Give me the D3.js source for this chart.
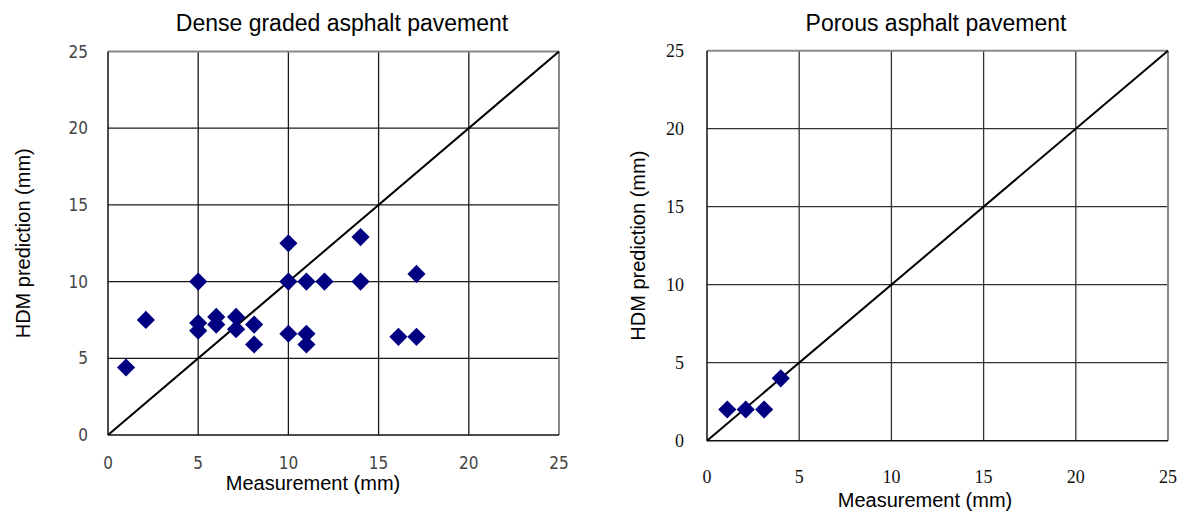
<!DOCTYPE html>
<html>
<head>
<meta charset="utf-8">
<script src="https://cdn.jsdelivr.net/npm/d3@7"></script>
<style>
  body { margin: 0; background: #fff; }
  svg { display: block; }
  .title, .axis-label { font-family: "Liberation Sans", Arial, sans-serif; fill: #000; }
</style>
</head>
<body>
<svg id="chart" width="1184" height="512"></svg>
<script>
// dense graded pavement: [measurement, HDM prediction]
var denseMeasured  = [1, 2.1, 5, 5, 5, 6, 6, 7.1, 7.1, 8.1, 8.1, 10, 10, 10, 11, 11, 11, 12, 14, 14, 16.1, 17.1, 17.1];
var densePredicted = [4.4, 7.5, 10, 7.3, 6.8, 7.7, 7.2, 7.7, 6.9, 7.2, 5.9, 12.5, 10, 6.6, 10, 6.6, 5.9, 10, 12.9, 10, 6.4, 6.4, 10.5];

// porous pavement
var porousMeasured  = [1.1, 2.1, 3.1, 4];
var porousPredicted = [2, 2, 2, 4];

var tickValues = [0, 5, 10, 15, 20, 25];
var axisMax = 25;

var svg = d3.select("#chart");

function drawPanel(opts) {
  var x = d3.scaleLinear().domain([0, axisMax]).range([opts.left, opts.right]);
  var y = d3.scaleLinear().domain([0, axisMax]).range([opts.bottom, opts.top]);
  var g = svg.append("g");

  // grid
  g.selectAll(".vgrid").data(tickValues.slice(1, -1)).enter().append("line")
    .attr("x1", function (d) { return x(d); }).attr("x2", function (d) { return x(d); })
    .attr("y1", y(0)).attr("y2", y(axisMax))
    .attr("stroke", opts.gridColor).attr("stroke-width", 1.3);
  g.selectAll(".hgrid").data(tickValues.slice(1, -1)).enter().append("line")
    .attr("y1", function (d) { return y(d); }).attr("y2", function (d) { return y(d); })
    .attr("x1", x(0)).attr("x2", x(axisMax))
    .attr("stroke", opts.gridColor).attr("stroke-width", 1.3);

  // frame: grey top/right, dark left/bottom
  g.append("line").attr("x1", x(0)).attr("x2", x(axisMax)).attr("y1", y(axisMax)).attr("y2", y(axisMax))
    .attr("stroke", "#888").attr("stroke-width", 2);
  g.append("line").attr("x1", x(axisMax)).attr("x2", x(axisMax)).attr("y1", y(0)).attr("y2", y(axisMax))
    .attr("stroke", "#888").attr("stroke-width", 2);
  g.append("line").attr("x1", x(0)).attr("x2", x(0)).attr("y1", y(0)).attr("y2", y(axisMax))
    .attr("stroke", "#111").attr("stroke-width", 1.5);
  g.append("line").attr("x1", x(0)).attr("x2", x(axisMax)).attr("y1", y(0)).attr("y2", y(0))
    .attr("stroke", "#111").attr("stroke-width", 1.5);

  // 1:1 line
  g.append("line").attr("x1", x(0)).attr("y1", y(0)).attr("x2", x(axisMax)).attr("y2", y(axisMax))
    .attr("stroke", "#000").attr("stroke-width", 2);

  // tick labels
  g.selectAll(".xt").data(tickValues).enter().append("text")
    .attr("x", function (d) { return x(d); }).attr("y", opts.xTickY)
    .attr("text-anchor", "middle").attr("dominant-baseline", "central")
    .style("font-family", opts.tickFont).style("font-size", opts.tickSize + "px").style("fill", opts.tickColor)
    .text(function (d) { return d; });
  g.selectAll(".yt").data(tickValues).enter().append("text")
    .attr("x", opts.yTickX).attr("y", function (d) { return y(d); })
    .attr("text-anchor", "end").attr("dominant-baseline", "central")
    .style("font-family", opts.tickFont).style("font-size", opts.tickSize + "px").style("fill", opts.tickColor)
    .text(function (d) { return d; });

  // points
  var sym = d3.symbol().type(d3.symbolSquare).size(165);
  g.selectAll(".pt").data(opts.xs).enter().append("path")
    .attr("d", sym)
    .attr("transform", function (d, i) { return "translate(" + x(d) + "," + y(opts.ys[i]) + ") rotate(45)"; })
    .attr("fill", "#000080");

  // titles
  g.append("text").attr("class", "title").attr("x", opts.titleX).attr("y", 31)
    .attr("text-anchor", "middle").style("font-size", "23px").text(opts.title);
  g.append("text").attr("class", "axis-label").attr("x", opts.xLabelX).attr("y", opts.xLabelY)
    .attr("text-anchor", "middle").style("font-size", "20px").text("Measurement (mm)");
  g.append("text").attr("class", "axis-label")
    .attr("transform", "translate(" + opts.yLabelX + "," + (opts.top + opts.bottom) / 2 + ") rotate(-90)")
    .attr("text-anchor", "middle").style("font-size", "20px").text("HDM prediction (mm)");
}

drawPanel({
  left: 108, right: 559, top: 51.5, bottom: 435,
  xs: denseMeasured, ys: densePredicted,
  gridColor: "#1a1a1a",
  tickFont: '"Liberation Sans Narrow", "DejaVu Sans Condensed", sans-serif',
  tickSize: 17, tickColor: "#444",
  xTickY: 463, yTickX: 88,
  title: "Dense graded asphalt pavement", titleX: 342,
  xLabelX: 313, xLabelY: 490,
  yLabelX: 30
});

drawPanel({
  left: 707, right: 1168, top: 50.7, bottom: 440.7,
  xs: porousMeasured, ys: porousPredicted,
  gridColor: "#333",
  tickFont: '"Liberation Serif", "Times New Roman", serif',
  tickSize: 18, tickColor: "#111",
  xTickY: 477, yTickX: 684,
  title: "Porous asphalt pavement", titleX: 936,
  xLabelX: 925, xLabelY: 507,
  yLabelX: 645
});
</script>
</body>
</html>
